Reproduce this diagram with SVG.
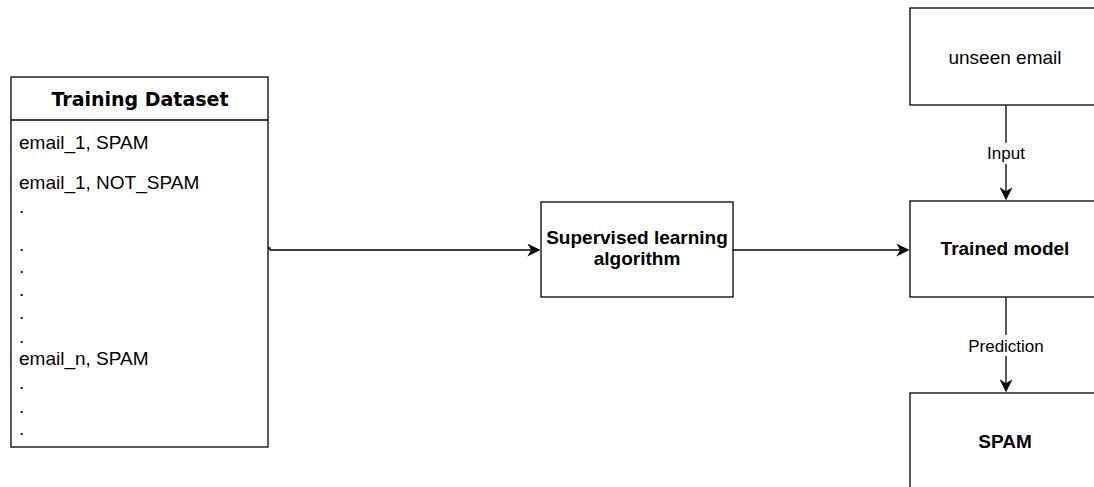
<svg xmlns="http://www.w3.org/2000/svg" width="1094" height="487" viewBox="0 0 1094 487">
<style>
.box{fill:#fff;stroke:#000;stroke-width:1.3}
.t{font-family:"Liberation Sans",Arial,sans-serif;font-size:19px;fill:#000}
.b{font-weight:bold;font-size:19px}
.c{text-anchor:middle}
.lbl{font-family:"Liberation Sans",Arial,sans-serif;font-size:17px;fill:#000;text-anchor:middle}
.edge{fill:none;stroke:#000;stroke-width:1.3}
</style>
<defs>
<marker id="arr" viewBox="0 0 10 10" refX="9" refY="5" markerWidth="13" markerHeight="13" markerUnits="userSpaceOnUse" orient="auto">
<path d="M0,0 L10,5 L0,10 L3,5 z" fill="#000"/>
</marker>
</defs>
<rect width="1094" height="487" fill="#fff"/>
<g id="training-dataset">
<rect class="box" x="11" y="77" width="257" height="370"/>
<line class="edge" x1="11" y1="120" x2="268" y2="120"/>
<text class="c" x="140" y="106" style="font-family:'DejaVu Sans',Verdana,sans-serif;font-size:19px;font-weight:bold">Training Dataset</text>
<text class="t" x="19" y="149">email_1, SPAM</text>
<text class="t" x="19" y="189">email_1, NOT_SPAM</text>
<text class="t" x="19" y="213">.</text>
<text class="t" x="19" y="251">.</text>
<text class="t" x="19" y="273">.</text>
<text class="t" x="19" y="296">.</text>
<text class="t" x="19" y="319">.</text>
<text class="t" x="19" y="343">.</text>
<text class="t" x="19" y="365">email_n, SPAM</text>
<text class="t" x="19" y="389">.</text>
<text class="t" x="19" y="413">.</text>
<text class="t" x="19" y="435">.</text>
</g>
<g id="supervised">
<rect class="box" x="541" y="202" width="192" height="95"/>
<text class="t b c" x="637" y="244">Supervised learning</text>
<text class="t b c" x="637" y="265">algorithm</text>
</g>
<g id="unseen-email">
<rect class="box" x="910" y="8" width="190" height="97"/>
<text class="t c" x="1005" y="64">unseen email</text>
</g>
<g id="trained-model">
<rect class="box" x="910" y="201" width="190" height="96"/>
<text class="t b c" x="1005" y="255">Trained model</text>
</g>
<g id="spam">
<rect class="box" x="910" y="393" width="190" height="110"/>
<text class="t b c" x="1005" y="448">SPAM</text>
</g>
<g id="connectors">
<path class="edge" d="M268,248 L270,248 L270,250 L539,250" marker-end="url(#arr)"/>
<path class="edge" d="M733,250 L908,250" marker-end="url(#arr)"/>
<path class="edge" d="M1006,105 L1006,199" marker-end="url(#arr)"/>
<rect x="984" y="143" width="44" height="21" fill="#fff"/>
<text class="lbl" x="1006" y="159">Input</text>
<path class="edge" d="M1006,297 L1006,391" marker-end="url(#arr)"/>
<rect x="964" y="335" width="84" height="21" fill="#fff"/>
<text class="lbl" x="1006" y="352">Prediction</text>
</g>
</svg>
